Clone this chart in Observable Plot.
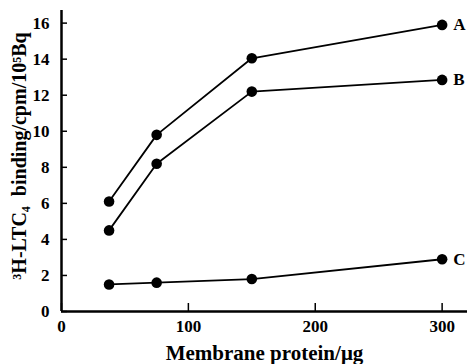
<!DOCTYPE html>
<html><head><meta charset="utf-8">
<script src="https://cdn.jsdelivr.net/npm/d3@7"></script>
<script src="https://cdn.jsdelivr.net/npm/@observablehq/plot@0.6"></script>
<style>
body{margin:0;background:#fff;}
#chart svg{display:block;overflow:visible;}
</style>
</head><body><div id="chart"></div>
<script>
const protein = [37.5, 75, 150, 300];
const seriesNames = ["A", "B", "C"];
const seriesA = [6.1, 9.8, 14.05, 15.9];
const seriesB = [4.5, 8.2, 12.2, 12.85];
const seriesC = [1.5, 1.6, 1.8, 2.9];
const xTicks = [0, 100, 200, 300];
const yTicks = [0, 2, 4, 6, 8, 10, 12, 14, 16];
const xTitle = "Membrane protein/\u03bcg";
const yTitle = "\u00b3H-LTC\u2084\u00a0 binding/cpm/10\u2075Bq";

const allValues = [seriesA, seriesB, seriesC];
const data = [];
seriesNames.forEach((s, i) => protein.forEach((p, j) => data.push({series: s, x: p, y: allValues[i][j]})));
const lastPoints = data.filter(d => d.x === protein[protein.length - 1]);

const font = "'Liberation Serif', 'Times New Roman', serif";
const chart = Plot.plot({
  width: 470,
  height: 364,
  marginLeft: 61,
  marginRight: 3,
  marginTop: 10,
  marginBottom: 53,
  style: {fontFamily: font, fontWeight: "bold", fontSize: "17px", color: "#000", background: "#fff", overflow: "visible"},
  x: {domain: [0, 320]},
  y: {domain: [0, 16.7]},
  marks: [
    Plot.axisY({ticks: yTicks, tickSize: -6, tickPadding: 18, strokeWidth: 1.5, fontSize: 17, fontWeight: "bold", label: null}),
    Plot.axisX({ticks: xTicks, tickSize: -8, tickPadding: 16, strokeWidth: 1.5, fontSize: 17, fontWeight: "bold", label: null}),
    Plot.ruleX([0], {stroke: "#000", strokeWidth: 2.5}),
    Plot.ruleY([0], {stroke: "#000", strokeWidth: 2.5}),
    Plot.line(data, {x: "x", y: "y", z: "series", stroke: "#000", strokeWidth: 1.8}),
    Plot.dot(data, {x: "x", y: "y", r: 5.3, fill: "#000", stroke: "none"}),
    Plot.text(lastPoints, {x: "x", y: "y", text: "series", dx: 11, textAnchor: "start", fontSize: 17, fontWeight: "bold", fill: "#000"}),
    Plot.text([xTitle], {frameAnchor: "bottom", dx: 0, dy: 42, lineAnchor: "middle", fontSize: 21, fontWeight: "bold", fill: "#000", letterSpacing: 3.2}),
    Plot.text([yTitle], {frameAnchor: "left", dx: -42, dy: -5, rotate: -90, lineAnchor: "middle", textAnchor: "middle", fontSize: 20, fontWeight: "bold", fill: "#000", letterSpacing: 0.8})
  ]
});
document.getElementById("chart").appendChild(chart);
</script>
</body></html>
